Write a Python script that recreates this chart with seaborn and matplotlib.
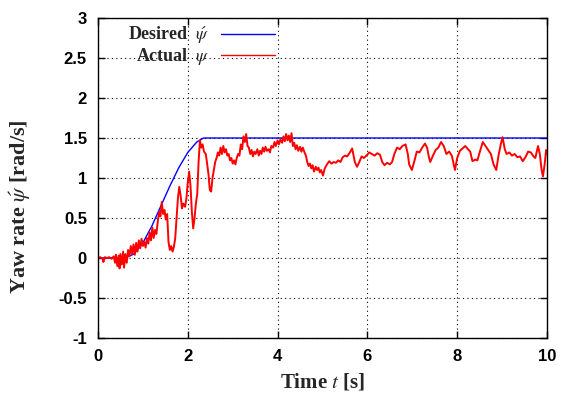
import pandas as pd
import matplotlib.pyplot as plt
import seaborn as sns

# Desired yaw-rate reference (smooth ramp to 1.5 rad/s)
desired_t = [0.0, 0.6, 0.8, 1.0, 1.2, 1.4, 1.6, 1.8, 2.0, 2.2, 2.35, 10.0]
desired_r = [0.0, 0.0, 0.05, 0.19, 0.40, 0.65, 0.90, 1.13, 1.32, 1.45, 1.50, 1.50]

actual_t = [
    0.00, 0.05, 0.10, 0.12, 0.15, 0.20, 0.25, 0.30, 0.35, 0.38, 0.40, 0.43, 0.46, 0.48,
    0.50, 0.53, 0.56, 0.58, 0.61, 0.64, 0.67, 0.70, 0.73, 0.76, 0.79, 0.82, 0.85, 0.88,
    0.91, 0.94, 0.97, 1.00, 1.03, 1.06, 1.09, 1.12, 1.15, 1.18, 1.21, 1.24, 1.27, 1.30,
    1.33, 1.36, 1.39, 1.42, 1.45, 1.48, 1.51, 1.54, 1.57, 1.60, 1.63, 1.66, 1.69, 1.72,
    1.75, 1.78, 1.81, 1.84, 1.87, 1.90, 1.94, 1.97, 2.00, 2.03, 2.06, 2.09, 2.12, 2.15,
    2.18, 2.21, 2.24, 2.27, 2.30, 2.33, 2.36, 2.40, 2.43, 2.46, 2.49, 2.52, 2.55, 2.58,
    2.61, 2.64, 2.67, 2.70, 2.73, 2.76, 2.79, 2.82, 2.85, 2.88, 2.91, 2.94, 2.97, 3.00,
    3.03, 3.06, 3.09, 3.12, 3.15, 3.18, 3.21, 3.24, 3.27, 3.30, 3.33, 3.36, 3.39, 3.42,
    3.45, 3.48, 3.51, 3.55, 3.58, 3.61, 3.64, 3.67, 3.70, 3.73, 3.76, 3.80, 3.83, 3.86,
    3.90, 3.93, 3.96, 4.00, 4.03, 4.06, 4.10, 4.13, 4.16, 4.19, 4.22, 4.25, 4.28, 4.31,
    4.34, 4.37, 4.40, 4.43, 4.46, 4.50, 4.53, 4.56, 4.60, 4.63, 4.66, 4.69, 4.72, 4.75,
    4.78, 4.81, 4.85, 4.88, 4.91, 4.94, 4.97, 5.01, 5.05, 5.10, 5.15, 5.20, 5.25, 5.30,
    5.35, 5.40, 5.45, 5.50, 5.55, 5.60, 5.66, 5.72, 5.77, 5.82, 5.87, 5.92, 5.98, 6.04,
    6.10, 6.16, 6.22, 6.28, 6.33, 6.38, 6.44, 6.50, 6.55, 6.60, 6.66, 6.72, 6.78, 6.85,
    6.90, 6.93, 6.99, 7.05, 7.10, 7.16, 7.22, 7.28, 7.33, 7.37, 7.40, 7.46, 7.52, 7.58,
    7.64, 7.70, 7.76, 7.82, 7.88, 7.95, 8.00, 8.06, 8.12, 8.18, 8.24, 8.29, 8.34, 8.40,
    8.45, 8.50, 8.57, 8.63, 8.69, 8.75, 8.81, 8.87, 8.92, 8.97, 9.01, 9.06, 9.10, 9.16,
    9.22, 9.28, 9.34, 9.40, 9.46, 9.52, 9.58, 9.64, 9.70, 9.74, 9.80, 9.84, 9.88, 9.91,
    9.95, 9.98, 10.00,
]
actual_r = [
    0.00, 0.01, -0.01, -0.05, 0.01, 0.00, 0.01, -0.01, 0.02, -0.06, 0.04, -0.10, 0.03, -0.13,
    0.05, -0.08, 0.08, -0.12, 0.05, -0.06, 0.10, 0.02, 0.15, 0.05, 0.17, 0.04, 0.19, 0.08,
    0.22, 0.12, 0.24, 0.15, 0.20, 0.13, 0.25, 0.18, 0.32, 0.22, 0.38, 0.25, 0.35, 0.30,
    0.45, 0.58, 0.52, 0.70, 0.55, 0.60, 0.48, 0.55, 0.20, 0.10, 0.15, 0.08, 0.14, 0.25,
    0.50, 0.75, 0.89, 0.78, 0.62, 0.68, 0.64, 0.75, 0.95, 1.08, 0.90, 0.58, 0.37, 0.50,
    0.68, 0.80, 1.20, 1.47, 1.38, 1.42, 1.33, 1.30, 1.18, 1.05, 0.85, 0.83, 1.00, 1.10,
    1.20, 1.25, 1.32, 1.28, 1.38, 1.30, 1.40, 1.32, 1.36, 1.28, 1.30, 1.22, 1.25, 1.18,
    1.22, 1.17, 1.25, 1.30, 1.28, 1.42, 1.36, 1.52, 1.45, 1.55, 1.40, 1.38, 1.30, 1.35,
    1.27, 1.33, 1.30, 1.36, 1.28, 1.34, 1.30, 1.38, 1.33, 1.39, 1.34, 1.36, 1.32, 1.40,
    1.38, 1.45, 1.40, 1.47, 1.42, 1.48, 1.44, 1.52, 1.46, 1.55, 1.47, 1.53, 1.45, 1.56,
    1.40, 1.44, 1.36, 1.41, 1.34, 1.39, 1.33, 1.38, 1.32, 1.28, 1.20, 1.15, 1.18, 1.12,
    1.16, 1.08, 1.14, 1.10, 1.13, 1.07, 1.10, 1.03, 1.12, 1.17, 1.21, 1.18, 1.20, 1.19,
    1.22, 1.20, 1.26, 1.28, 1.27, 1.31, 1.37, 1.20, 1.14, 1.20, 1.27, 1.25, 1.28, 1.32,
    1.30, 1.28, 1.31, 1.29, 1.20, 1.16, 1.19, 1.17, 1.20, 1.30, 1.38, 1.36, 1.40, 1.42,
    1.30, 1.17, 1.10, 1.22, 1.33, 1.32, 1.38, 1.43, 1.38, 1.26, 1.20, 1.28, 1.35, 1.38,
    1.45, 1.40, 1.30, 1.33, 1.28, 1.10, 1.25, 1.34, 1.37, 1.40, 1.36, 1.33, 1.21, 1.23,
    1.22, 1.32, 1.45, 1.40, 1.35, 1.30, 1.17, 1.10, 1.28, 1.42, 1.51, 1.36, 1.30, 1.32,
    1.28, 1.30, 1.26, 1.27, 1.21, 1.26, 1.33, 1.32, 1.27, 1.25, 1.40, 1.30, 1.10, 1.02,
    1.18, 1.35, 1.30,
]

desired = pd.DataFrame({"t": desired_t, "r": desired_r})
actual = pd.DataFrame({"t": actual_t, "r": actual_r})

sns.set_theme(style="ticks")
plt.rcParams['font.family'] = ['Liberation Serif', 'DejaVu Serif']
plt.rcParams['mathtext.fontset'] = 'stix'
plt.rcParams['axes.edgecolor'] = 'black'
plt.rcParams['axes.linewidth'] = 1.0

fig, ax = plt.subplots(figsize=(5.62, 3.96), dpi=100)
fig.subplots_adjust(left=0.1744, right=0.9733, top=0.9545, bottom=0.1465)

sns.lineplot(data=desired, x="t", y="r", ax=ax, color="#0000ff", linewidth=1.0,
             label=r"Desired  $\acute{\psi}$")
sns.lineplot(data=actual, x="t", y="r", ax=ax, color="#ff0000", linewidth=1.4,
             label=r"Actual  $\psi$")

ax.set_xlim(0, 10)
ax.set_ylim(-1, 3)
ax.set_xticks([0, 2, 4, 6, 8, 10])
ax.set_yticks([-1, -0.5, 0, 0.5, 1, 1.5, 2, 2.5, 3])
ax.set_yticklabels(["-1", "-0.5", "0", "0.5", "1", "1.5", "2", "2.5", "3"])
ax.grid(True, color="black", linestyle=(0, (1, 3)), linewidth=0.8)
ax.tick_params(direction="in", length=5, width=1, top=True, right=True, colors="black", pad=8)
for lab in ax.get_xticklabels() + ax.get_yticklabels():
    lab.set_family("Liberation Sans")
    lab.set_fontweight("bold")
    lab.set_fontsize(12)

ax.set_xlabel(r"Time $t$ [s]", fontsize=15, fontweight="bold", labelpad=5)
ax.set_ylabel(r"Yaw rate $\acute{\psi}$ [rad/s]", fontsize=16, fontweight="bold")
ax.yaxis.set_label_coords(-0.145, 0.41)

leg = ax.legend(loc="upper left", bbox_to_anchor=(0.03, 1.03), frameon=False, markerfirst=False,
                handlelength=3.0, handletextpad=0.6, labelspacing=0.0,
                prop={"family": "Liberation Serif", "weight": "bold", "size": 13})
# right-align the legend rows so the labels line up against their lines
leg._legend_box._children[1]._children[0].align = "right"
leg.get_lines()[1].set_linewidth(1.0)

plt.savefig("out.png", dpi=100)
plt.close()
